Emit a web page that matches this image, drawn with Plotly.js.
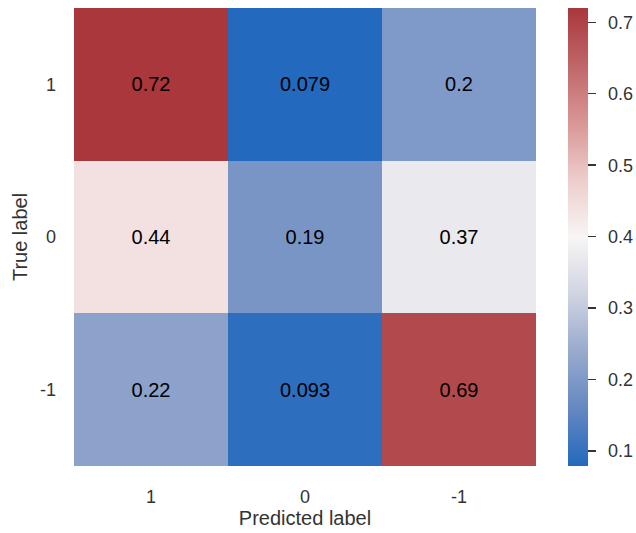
<!DOCTYPE html>
<html><head><meta charset="utf-8">
<script src="https://cdn.plot.ly/plotly-3.0.1.min.js"></script>
<style>html,body{margin:0;padding:0;background:#fff;}</style>
</head><body>
<div id="chart" style="width:636px;height:533px;"></div>
<script>
const predictedLabels = ['1', '0', '-1'];
const trueLabels = ['1', '0', '-1'];
const row1 = [0.72, 0.079, 0.2];
const row0 = [0.44, 0.19, 0.37];
const rowNeg1 = [0.22, 0.093, 0.69];
const cellText = [['0.72', '0.079', '0.2'], ['0.44', '0.19', '0.37'], ['0.22', '0.093', '0.69']];
const colorTicks = [0.1, 0.2, 0.3, 0.4, 0.5, 0.6, 0.7];
const colorTickText = ['0.1', '0.2', '0.3', '0.4', '0.5', '0.6', '0.7'];

const vlag = [
  [0.0, 'rgb(35,105,189)'],
  [0.125, 'rgb(100,136,194)'],
  [0.25, 'rgb(152,170,205)'],
  [0.375, 'rgb(208,212,226)'],
  [0.5, 'rgb(248,245,245)'],
  [0.625, 'rgb(236,205,204)'],
  [0.75, 'rgb(216,150,149)'],
  [0.875, 'rgb(192,102,104)'],
  [1.0, 'rgb(169,55,59)']
];

const F = 'Liberation Sans, Arial, sans-serif';

const trace = {
  type: 'heatmap',
  x: predictedLabels,
  y: trueLabels,
  z: [row1, row0, rowNeg1],
  text: cellText,
  texttemplate: '%{text}',
  textfont: {family: F, size: 20, color: '#000'},
  colorscale: vlag,
  zmin: 0.079, zmax: 0.72,
  xgap: 0, ygap: 0,
  hoverinfo: 'skip',
  colorbar: {
    x: 1.069, xanchor: 'left', xpad: 0,
    y: 0.5, yanchor: 'middle', len: 1, lenmode: 'fraction', ypad: 0,
    thickness: 20, outlinewidth: 0,
    tickmode: 'array',
    tickvals: colorTicks,
    ticktext: colorTickText.map(t => '\u2002' + t),
    ticks: 'outside', ticklen: 8, tickwidth: 1.5, tickcolor: '#333',
    tickfont: {family: F, size: 18, color: '#333'}
  }
};

const layout = {
  width: 636, height: 533,
  margin: {l: 74, r: 100, t: 8, b: 67, autoexpand: false},
  paper_bgcolor: '#fff', plot_bgcolor: '#fff',
  font: {family: F, color: '#333'},
  xaxis: {
    type: 'category', showgrid: false, zeroline: false, showline: false, ticks: '',
    tickfont: {size: 18, color: '#333'}, ticklabelstandoff: 18,
    title: {text: 'Predicted label', font: {size: 20, color: '#333'}, standoff: 4}
  },
  yaxis: {
    type: 'category', autorange: 'reversed', showgrid: false, zeroline: false, showline: false, ticks: '',
    tickfont: {size: 18, color: '#333'}, ticklabelstandoff: 17,
    title: {text: 'True label', font: {size: 20, color: '#333'}, standoff: 6}
  }
};

Plotly.newPlot('chart', [trace], layout, {displayModeBar: false, staticPlot: true});
</script>
</body></html>
